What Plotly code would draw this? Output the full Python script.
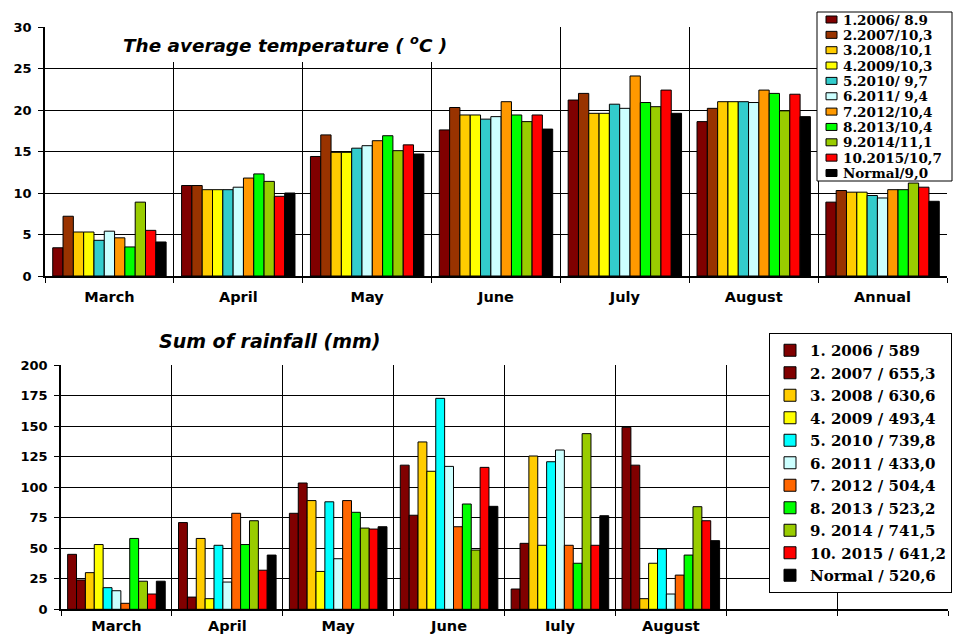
import plotly.graph_objects as go

W, H = 953, 635

# ---------------- data: average temperature ----------------
temp_months = ["March", "April", "May", "June", "July", "August", "Annual"]
temp_names = ["1.2006/ 8.9", "2.2007/10,3", "3.2008/10,1", "4.2009/10,3",
              "5.2010/ 9,7", "6.2011/ 9,4", "7.2012/10,4", "8.2013/10,4",
              "9.2014/11,1", "10.2015/10,7", "Normal/9,0"]
temp_colors = ["#800000", "#993300", "#FFCC00", "#FFFF00", "#33CCCC", "#CCFFFF",
               "#FF9900", "#00FF00", "#99CC00", "#FF0000", "#000000"]
t_2006 = [3.4, 10.9, 14.4, 17.6, 21.2, 18.6, 8.9]
t_2007 = [7.2, 10.9, 17.0, 20.3, 22.0, 20.2, 10.3]
t_2008 = [5.3, 10.4, 14.9, 19.4, 19.6, 21.0, 10.1]
t_2009 = [5.3, 10.4, 14.9, 19.4, 19.6, 21.0, 10.1]
t_2010 = [4.3, 10.4, 15.4, 18.9, 20.7, 21.0, 9.7]
t_2011 = [5.4, 10.7, 15.7, 19.2, 20.2, 20.9, 9.4]
t_2012 = [4.6, 11.8, 16.3, 21.0, 24.1, 22.4, 10.4]
t_2013 = [3.5, 12.3, 16.9, 19.4, 20.9, 22.0, 10.4]
t_2014 = [8.9, 11.4, 15.1, 18.6, 20.4, 19.9, 11.2]
t_2015 = [5.5, 9.6, 15.8, 19.4, 22.4, 21.9, 10.7]
t_norm = [4.1, 10.0, 14.7, 17.7, 19.6, 19.2, 9.0]
temp_series = [t_2006, t_2007, t_2008, t_2009, t_2010, t_2011,
               t_2012, t_2013, t_2014, t_2015, t_norm]

# ---------------- data: sum of rainfall ----------------
rain_months = ["March", "April", "May", "June", "Iuly", "August"]
rain_axis_categories = rain_months + [" ", "  "]
rain_names = ["1. 2006 / 589", "2. 2007 / 655,3", "3. 2008 / 630,6",
              "4. 2009 / 493,4", "5. 2010 / 739,8", "6. 2011 / 433,0",
              "7. 2012 / 504,4", "8. 2013 / 523,2", "9. 2014 / 741,5",
              "10. 2015 / 641,2", "Normal / 520,6"]
rain_colors = ["#800000", "#800000", "#FFCC00", "#FFFF00", "#00FFFF", "#CCFFFF",
               "#FF6600", "#00FF00", "#99CC00", "#FF0000", "#000000"]
r_2006 = [45, 71, 78.6, 118, 16.6, 149]
r_2007 = [24, 10, 103.4, 77, 54, 118]
r_2008 = [30, 58, 89, 137, 125.5, 8.7]
r_2009 = [53, 8.7, 31, 113, 52.4, 37.7]
r_2010 = [17.7, 52.4, 88, 172.7, 120.8, 49.4]
r_2011 = [15.2, 22.3, 41.4, 117, 130.4, 12.5]
r_2012 = [4.9, 78.6, 89, 67.6, 52.4, 28]
r_2013 = [58, 53, 79.4, 86.2, 37.7, 44.4]
r_2014 = [23, 72.5, 66.5, 48.5, 143.8, 84]
r_2015 = [12.5, 32, 65.7, 116.2, 52.4, 72.5]
r_norm = [23, 44.4, 67.6, 84.3, 76.6, 56.2]
rain_series = [r_2006, r_2007, r_2008, r_2009, r_2010, r_2011,
               r_2012, r_2013, r_2014, r_2015, r_norm]

TITLE_TOP = "The average temperature ( <sup>o</sup>C )"
TITLE_BOTTOM = "Sum of rainfall (mm)"

# ---------------- figure ----------------
fig = go.Figure()
for name, vals, col in zip(temp_names, temp_series, temp_colors):
    fig.add_trace(go.Bar(x=temp_months, y=vals, name=name, xaxis="x", yaxis="y",
                         marker=dict(color=col, line=dict(color="black", width=1)),
                         showlegend=False))
for name, vals, col in zip(rain_names, rain_series, rain_colors):
    fig.add_trace(go.Bar(x=rain_months, y=vals, name=name, xaxis="x2", yaxis="y2",
                         marker=dict(color=col, line=dict(color="black", width=1)),
                         showlegend=True))

def px_x(p):
    return p / W

def px_y(p):
    return 1 - p / H

tickfont = dict(family="DejaVu Sans", size=13, color="black", weight="bold")
catfont = dict(family="DejaVu Sans", size=14.5, color="black", weight="bold")

xcommon = dict(type="category", tickson="boundaries", showgrid=True, gridcolor="black",
               gridwidth=1, ticks="outside", ticklen=5, tickcolor="black", tickwidth=1,
               showline=True, linecolor="black", linewidth=1.5, tickfont=catfont,
               zeroline=False, fixedrange=True, automargin=False)
ycommon = dict(showgrid=True, gridcolor="black", gridwidth=1, ticks="outside", ticklen=5,
               tickcolor="black", tickwidth=1, showline=True, linecolor="black",
               linewidth=1.5, tickfont=tickfont, zeroline=False, ticklabelstandoff=4,
               automargin=False)

fig.update_layout(
    width=W, height=H, autosize=False,
    margin=dict(l=0, r=0, t=0, b=0, pad=0),
    paper_bgcolor="white", plot_bgcolor="white",
    barmode="group", bargap=0.12, bargroupgap=0,
    xaxis=dict(xcommon, domain=[px_x(45), px_x(947)], anchor="y", ticklabelstandoff=7,
               categoryorder="array", categoryarray=temp_months, range=[-0.5, 6.5]),
    yaxis=dict(ycommon, domain=[px_y(276), px_y(27)], anchor="x", range=[0, 30], dtick=5),
    xaxis2=dict(xcommon, domain=[px_x(61), px_x(948)], anchor="y2", ticklabelstandoff=3,
                categoryorder="array", categoryarray=rain_axis_categories,
                range=[-0.5, 7.5]),
    yaxis2=dict(ycommon, domain=[px_y(609.3), px_y(365)], anchor="x2", range=[0, 200],
                dtick=25),
    legend=dict(x=px_x(952), y=px_y(333), xanchor="right", yanchor="top",
                bgcolor="white", bordercolor="black", borderwidth=1,
                font=dict(family="DejaVu Serif", size=15, color="black", weight="bold"),
                traceorder="normal", itemclick=False, itemdoubleclick=False),
    showlegend=True,
)

shapes = []
annotations = []

# white box behind the top title (hides the grid there)
shapes.append(dict(type="rect", xref="paper", yref="paper", layer="above",
                   x0=px_x(110), x1=px_x(477), y0=px_y(62), y1=px_y(8),
                   fillcolor="white", line=dict(width=0)))
annotations.append(dict(text=TITLE_TOP, xref="paper", yref="paper",
                        x=px_x(285), y=px_y(44), xanchor="center", yanchor="middle",
                        showarrow=False,
                        font=dict(family="DejaVu Sans", size=18.4, color="black",
                                  weight="bold", style="italic")))
annotations.append(dict(text=TITLE_BOTTOM, xref="paper", yref="paper",
                        x=px_x(269), y=px_y(341), xanchor="center", yanchor="middle",
                        showarrow=False,
                        font=dict(family="DejaVu Sans", size=19, color="black",
                                  weight="bold", style="italic")))

# legend of the temperature chart (rows closer than Plotly's legend allows)
lg_left, lg_right, lg_top, lg_bottom = 817, 952, 12, 181
shapes.append(dict(type="rect", xref="paper", yref="paper", layer="above",
                   x0=px_x(lg_left), x1=px_x(lg_right), y0=px_y(lg_bottom), y1=px_y(lg_top),
                   fillcolor="white", line=dict(color="black", width=1)))
row0, row_step = 19.5, 15.35
for i, (name, col) in enumerate(zip(temp_names, temp_colors)):
    yc = row0 + i * row_step
    shapes.append(dict(type="rect", xref="paper", yref="paper", layer="above",
                       x0=px_x(826), x1=px_x(837), y0=px_y(yc + 3.5), y1=px_y(yc - 3.5),
                       fillcolor=col, line=dict(color="black", width=1)))
    annotations.append(dict(text=name.replace(" ", "\u00a0"), xref="paper", yref="paper",
                            x=px_x(841), y=px_y(yc), xanchor="left", yanchor="middle",
                            showarrow=False,
                            font=dict(family="DejaVu Serif", size=13.5, color="black",
                                      weight="bold")))

fig.update_layout(shapes=shapes, annotations=annotations)

fig.write_html("out.html",
               config={"displayModeBar": False},
               post_script="document.body.style.margin='0';document.body.style.padding='0';")
